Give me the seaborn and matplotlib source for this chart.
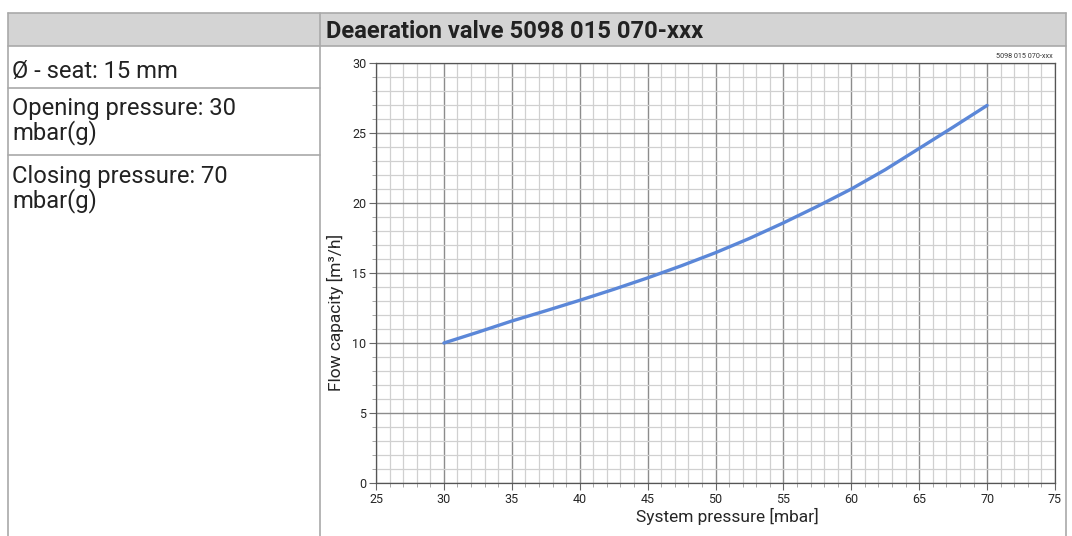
import numpy as np
import pandas as pd
import matplotlib
matplotlib.use("Agg")
import matplotlib.pyplot as plt
from matplotlib.patches import Rectangle
from matplotlib.lines import Line2D
from matplotlib.ticker import MultipleLocator
import seaborn as sns

# --- datos ---
pressure_mbar = [30, 32.5, 35, 37.5, 40, 42.5, 45, 47.5, 50,
                 52.5, 55, 57.5, 60, 62.5, 65, 67.5, 70]
flow_m3h = [10.0, 10.77, 11.57, 12.3, 13.05, 13.83, 14.65, 15.52, 16.45,
            17.47, 18.58, 19.76, 21.0, 22.38, 23.9, 25.42, 26.97]

title = "Deaeration valve 5098 015 070-xxx"
spec_lines = ["Ø - seat: 15 mm",
              "Opening pressure: 30", "mbar(g)",
              "Closing pressure: 70", "mbar(g)"]
drawing_code = "5098 015 070-xxx"

W, H = 1072, 536

sns.set_style("white")
plt.rcParams["font.family"] = ["Roboto", "DejaVu Sans"]

fig = plt.figure(figsize=(W / 100, H / 100), dpi=100)


def fx(px):
    return px / W


def fy(py):
    return 1 - py / H


# --- tabla ---
border = "#a9a9a9"
fig.patches.append(Rectangle((fx(8), fy(46)), fx(1066 - 8), (46 - 13) / H,
                             transform=fig.transFigure, facecolor="#d4d4d4",
                             edgecolor="none", zorder=0))
segs = [
    ((8, 13), (1066, 13)),
    ((8, 46), (1066, 46)),
    ((8, 88), (320, 88)),
    ((8, 155), (320, 155)),
    ((8, 13), (8, 536)),
    ((320, 13), (320, 536)),
    ((1066, 13), (1066, 536)),
]
for (x0, y0), (x1, y1) in segs:
    fig.add_artist(Line2D([fx(x0), fx(x1)], [fy(y0), fy(y1)],
                          transform=fig.transFigure, color=border, lw=1.2))

fig.text(fx(326), fy(31), title, fontsize=17.1, fontweight="bold",
         color="#222222", va="center", ha="left")

baselines = [78, 115, 139, 183, 207]
for txt, y in zip(spec_lines, baselines):
    fig.text(fx(12), fy(y), txt, fontsize=17.1, color="#222222",
             va="baseline", ha="left")

# --- grafico ---
ax = fig.add_axes([fx(376), fy(483), fx(1055 - 376), (483 - 63) / H])
df = pd.DataFrame({"p": pressure_mbar, "q": flow_m3h})
sns.lineplot(data=df, x="p", y="q", ax=ax, color="#5b87d8", lw=2.4, zorder=5)

ax.set_xlim(25, 75)
ax.set_ylim(0, 30)
ax.xaxis.set_major_locator(MultipleLocator(5))
ax.xaxis.set_minor_locator(MultipleLocator(1))
ax.yaxis.set_major_locator(MultipleLocator(5))
ax.yaxis.set_minor_locator(MultipleLocator(1))
ax.grid(which="major", color="#8c8c8c", lw=1.0)
ax.grid(which="minor", color="#d0d0d0", lw=0.9)
ax.set_axisbelow(True)
ax.tick_params(which="major", direction="out", length=5, width=0.8,
               color="#666666", labelsize=9, pad=2, bottom=True, left=True)
ax.tick_params(which="minor", direction="out", length=3, width=0.6,
               color="#999999", bottom=True, left=True)
for s in ax.spines.values():
    s.set_color("#555555")
    s.set_linewidth(0.9)

ax.set_xlabel("System pressure [mbar]", fontsize=12.5)
ax.set_ylabel("Flow capacity [m³/h]", fontsize=12.5)
ax.xaxis.set_label_coords((727 - 376) / 679, (483 - 508) / 420)
ax.yaxis.set_label_coords((344 - 376) / 679, (483 - 312) / 420)

fig.text(fx(1053), fy(60), drawing_code, fontsize=5.2, ha="right",
         va="bottom", color="#333333")

fig.savefig("out.png", dpi=100)
